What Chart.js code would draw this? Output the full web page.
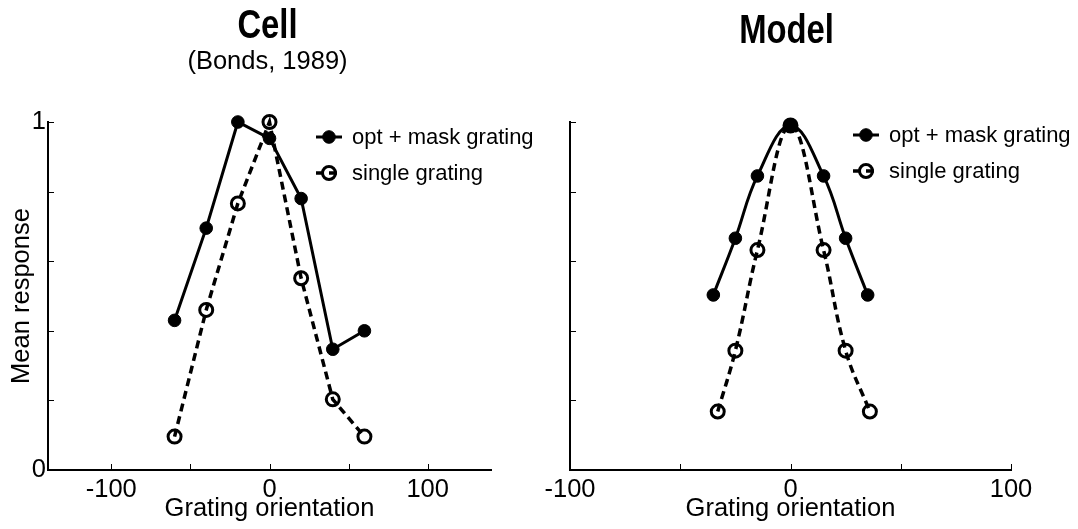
<!DOCTYPE html>
<html>
<head>
<meta charset="utf-8">
<script src="https://cdn.jsdelivr.net/npm/chart.js@4.4.1/dist/chart.umd.min.js"></script>
<style>
body { margin: 0; background: #fff; }
#wrap { width: 1078px; height: 529px; display: flex; }
canvas { display: block; }
</style>
</head>
<body>
<div id="wrap">
  <canvas id="cell" width="539" height="529"></canvas>
  <canvas id="model" width="539" height="529"></canvas>
</div>
<script>
// values
var cellOrientation = [-60, -40, -20, 0, 20, 40, 60];
var cellMaskResponse = [0.43, 0.695, 1.0, 0.953, 0.78, 0.347, 0.40];
var cellSingleResponse = [0.096, 0.46, 0.766, 1.0, 0.551, 0.203, 0.096];

var modelOrientation = [-35, -25, -15, 0, 15, 25, 35];
var modelMaskResponse = [0.503, 0.666, 0.845, 0.99, 0.845, 0.666, 0.503];
var modelSingleOrientation = [-33, -25, -15, 0, 15, 25, 36];
var modelSingleResponse = [0.168, 0.343, 0.632, 0.99, 0.632, 0.343, 0.168];

var xTickValues = [-100, -50, 0, 50, 100];
var xTickLabels = ['-100', '', '0', '', '100'];
var yTickValues = [0, 0.2, 0.4, 0.6, 0.8, 1];
var cellYTickLabels = ['0', '', '', '', '', '1'];
var seriesLabels = ['opt + mask grating', 'single grating'];

var FONT = '"Liberation Sans", Arial, Helvetica, sans-serif';
var TEXT_SIZE = 25.5;
Chart.defaults.font.family = FONT;
Chart.defaults.color = '#000';

function points(xs, ys) {
    return xs.map(function (x, i) { return { x: x, y: ys[i] }; });
}

// MATLAB style ticks pointing into the axes
var inwardTicks = {
    id: 'inwardTicks',
    afterDraw: function (chart) {
        var ctx = chart.ctx, area = chart.chartArea;
        var xs = chart.scales.x, ys = chart.scales.y;
        ctx.save();
        ctx.strokeStyle = '#000';
        ctx.lineWidth = 1;
        ctx.beginPath();
        xs.ticks.forEach(function (t) {
            var px = Math.round(xs.getPixelForValue(t.value)) + 0.5;
            ctx.moveTo(px, area.bottom);
            ctx.lineTo(px, area.bottom - 6);
        });
        ys.ticks.forEach(function (t) {
            var py = Math.round(ys.getPixelForValue(t.value)) + 0.5;
            ctx.moveTo(area.left, py);
            ctx.lineTo(area.left + 6, py);
        });
        ctx.stroke();
        ctx.restore();
    }
};

// condensed bold title (+ optional subtitle) centred over the axes
var narrowTitle = {
    id: 'narrowTitle',
    afterDraw: function (chart, args, opts) {
        var ctx = chart.ctx, area = chart.chartArea;
        var cx = (area.left + area.right) / 2 + opts.dx;
        ctx.save();
        ctx.fillStyle = '#000';
        ctx.textAlign = 'center';
        ctx.textBaseline = 'alphabetic';
        ctx.save();
        ctx.translate(cx, opts.baseline);
        ctx.scale(0.82, 1);
        ctx.font = 'bold 40px ' + FONT;
        ctx.fillText(opts.text, 0, 0);
        ctx.restore();
        if (opts.subtitle) {
            ctx.font = TEXT_SIZE + 'px ' + FONT;
            ctx.fillText(opts.subtitle, cx, opts.subBaseline);
        }
        ctx.restore();
    }
};

// legend with a short line through the marker, placed inside the axes
var lineLegend = {
    id: 'lineLegend',
    afterDraw: function (chart, args, opts) {
        var ctx = chart.ctx, area = chart.chartArea;
        var cx = area.left + opts.x;
        ctx.save();
        ctx.font = '22px ' + FONT;
        ctx.textBaseline = 'middle';
        chart.data.datasets.forEach(function (ds, i) {
            var cy = area.top + opts.y + i * opts.rowGap;
            ctx.setLineDash(ds.borderDash || []);
            ctx.lineWidth = ds.borderWidth;
            ctx.strokeStyle = ds.borderColor;
            ctx.beginPath();
            ctx.moveTo(cx - 13, cy);
            ctx.lineTo(cx + 13, cy);
            ctx.stroke();
            ctx.setLineDash([]);
            ctx.beginPath();
            ctx.arc(cx, cy, ds.pointRadius, 0, Math.PI * 2);
            if (ds.pointBackgroundColor !== 'rgba(0,0,0,0)') {
                ctx.fillStyle = ds.pointBackgroundColor;
                ctx.fill();
            }
            ctx.lineWidth = ds.pointBorderWidth;
            ctx.strokeStyle = ds.pointBorderColor;
            ctx.stroke();
            ctx.fillStyle = '#000';
            ctx.fillText(ds.label, cx + 23, cy + 1);
        });
        ctx.restore();
    }
};

function maskSet(data, tension) {
    return {
        label: seriesLabels[0], data: data,
        borderColor: '#000', borderWidth: 3, tension: tension,
        pointRadius: 6.3, pointBackgroundColor: '#000',
        pointBorderColor: '#000', pointBorderWidth: 1
    };
}
function singleSet(data, tension) {
    return {
        label: seriesLabels[1], data: data,
        borderColor: '#000', borderWidth: 3.5, borderDash: [8, 5], tension: tension,
        pointRadius: 6.5, pointBackgroundColor: 'rgba(0,0,0,0)',
        pointBorderColor: '#000', pointBorderWidth: 3
    };
}

function makeOptions(cfg) {
    return {
        responsive: false,
        animation: false,
        clip: false,
        layout: { padding: { right: cfg.padRight, top: 122, bottom: 0, left: 0 } },
        plugins: {
            legend: { display: false },
            tooltip: { enabled: false },
            title: { display: false },
            narrowTitle: cfg.title,
            lineLegend: cfg.legend
        },
        scales: {
            x: {
                type: 'linear', min: cfg.xMin, max: cfg.xMax,
                afterBuildTicks: function (s) {
                    s.ticks = xTickValues.map(function (v) { return { value: v }; });
                },
                afterFit: function (s) { s.height = 59; },
                grid: { display: false, drawTicks: false },
                border: { display: true, color: '#000', width: 2 },
                ticks: {
                    font: { size: TEXT_SIZE }, padding: 5, maxRotation: 0, autoSkip: false,
                    callback: function (v) { return xTickLabels[xTickValues.indexOf(v)]; }
                },
                title: { display: true, text: 'Grating orientation', font: { size: TEXT_SIZE, lineHeight: 1.2 }, padding: { top: 0, bottom: 5 } }
            },
            y: {
                type: 'linear', min: 0, max: 1,
                afterBuildTicks: function (s) {
                    s.ticks = yTickValues.map(function (v) { return { value: v }; });
                },
                afterFit: function (s) { s.width = cfg.yWidth; },
                grid: { display: false, drawTicks: false },
                border: { display: true, color: '#000', width: 2 },
                ticks: {
                    display: !!cfg.yLabels, font: { size: TEXT_SIZE }, padding: 2, autoSkip: false,
                    callback: function (v) { return cfg.yLabels ? cfg.yLabels[yTickValues.indexOf(v)] : ''; }
                },
                title: { display: !!cfg.yTitle, text: cfg.yTitle || '', font: { size: TEXT_SIZE, lineHeight: 1.2 }, padding: { top: 7, bottom: 0 } }
            }
        }
    };
}

new Chart(document.getElementById('cell'), {
    type: 'line',
    data: {
        datasets: [
            maskSet(points(cellOrientation, cellMaskResponse), 0),
            singleSet(points(cellOrientation, cellSingleResponse), 0)
        ]
    },
    options: makeOptions({
        title: { text: 'Cell', baseline: 38, dx: -2, subtitle: '(Bonds, 1989)', subBaseline: 69 },
        xMin: -140, xMax: 140, yWidth: 48, padRight: 48,
        yLabels: cellYTickLabels, yTitle: 'Mean response',
        legend: { x: 281, y: 15, rowGap: 36 }
    }),
    plugins: [inwardTicks, narrowTitle, lineLegend]
});

new Chart(document.getElementById('model'), {
    type: 'line',
    data: {
        datasets: [
            maskSet(points(modelOrientation, modelMaskResponse), 0.4),
            singleSet(points(modelSingleOrientation, modelSingleResponse), 0.4)
        ]
    },
    options: makeOptions({
        title: { text: 'Model', baseline: 43, dx: -4 },
        xMin: -100, xMax: 100, yWidth: 31, padRight: 67,
        legend: { x: 296, y: 13, rowGap: 36 }
    }),
    plugins: [inwardTicks, narrowTitle, lineLegend]
});
</script>
</body>
</html>
